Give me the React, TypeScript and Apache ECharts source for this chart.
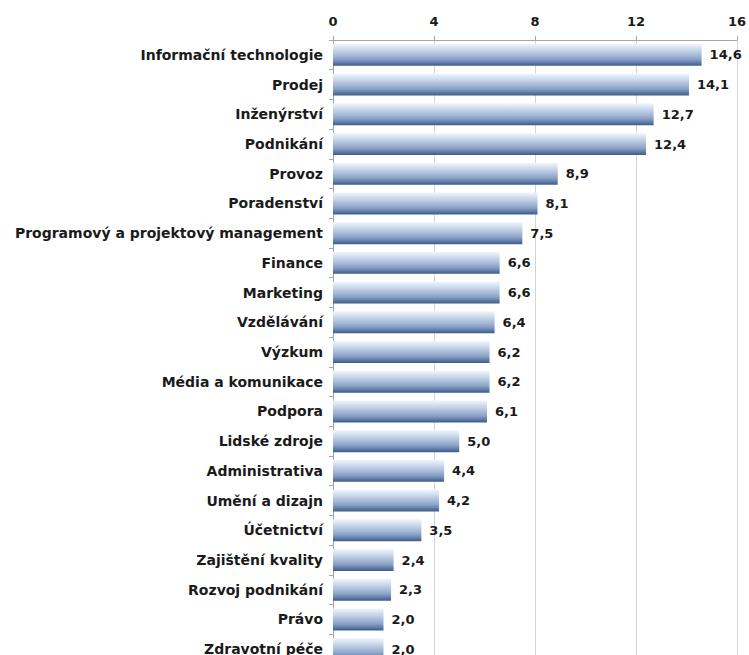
import React, { useEffect, useRef } from "react";
import * as echarts from "echarts";

const categories = [
  "Informační technologie",
  "Prodej",
  "Inženýrství",
  "Podnikání",
  "Provoz",
  "Poradenství",
  "Programový a projektový management",
  "Finance",
  "Marketing",
  "Vzdělávání",
  "Výzkum",
  "Média a komunikace",
  "Podpora",
  "Lidské zdroje",
  "Administrativa",
  "Umění a dizajn",
  "Účetnictví",
  "Zajištění kvality",
  "Rozvoj podnikání",
  "Právo",
  "Zdravotní péče",
];

const values = [14.6, 14.1, 12.7, 12.4, 8.9, 8.1, 7.5, 6.6, 6.6, 6.4, 6.2, 6.2, 6.1, 5.0, 4.4, 4.2, 3.5, 2.4, 2.3, 2.0, 2.0];

const xTicks = [0, 4, 8, 12, 16];

export default function App() {
  const ref = useRef<HTMLDivElement>(null);
  useEffect(() => {
    if (!ref.current) return;
    const chart = echarts.init(ref.current, undefined, { renderer: "svg" });
    const font = "'DejaVu Sans', sans-serif";
    chart.setOption({
      animation: false,
      backgroundColor: "#ffffff",
      grid: { left: 333, right: 9, top: 40, height: 624 },
      xAxis: {
        type: "value",
        position: "top",
        min: xTicks[0],
        max: xTicks[xTicks.length - 1],
        interval: 4,
        axisLine: { show: true, lineStyle: { color: "#a6a6a6", width: 1 } },
        axisTick: { show: true, length: 4, lineStyle: { color: "#a6a6a6" } },
        splitLine: { show: true, lineStyle: { color: "#d4d4d4", width: 1 } },
        axisLabel: {
          color: "#1a1a1a",
          fontFamily: font,
          fontWeight: "bold",
          fontSize: 13,
          margin: 12,
        },
      },
      yAxis: {
        type: "category",
        inverse: true,
        data: categories,
        axisLine: { show: true, lineStyle: { color: "#a6a6a6", width: 1 } },
        axisTick: { show: true, length: 4, lineStyle: { color: "#a6a6a6" } },
        axisLabel: {
          color: "#1a1a1a",
          fontFamily: font,
          fontWeight: "bold",
          fontSize: 14,
          margin: 10,
        },
      },
      series: [
        {
          type: "bar",
          data: values,
          barWidth: 22,
          itemStyle: {
            color: new echarts.graphic.LinearGradient(0, 0, 0, 1, [
              { offset: 0, color: "#f2f6fc" },
              { offset: 0.3, color: "#c6d4e9" },
              { offset: 0.7, color: "#8aa2c8" },
              { offset: 1, color: "#3e5b8b" },
            ]),
          },
          label: {
            show: true,
            position: "right",
            distance: 8,
            color: "#1a1a1a",
            fontFamily: font,
            fontWeight: "bold",
            fontSize: 13,
            formatter: (p: any) => p.value.toFixed(1).replace(".", ","),
          },
        },
      ],
    });
    return () => chart.dispose();
  }, []);
  return (
    <div style={{ position: "fixed", left: 0, top: 0, width: 749, height: 655, overflow: "hidden", background: "#fff" }}>
      <div ref={ref} style={{ width: 749, height: 680 }} />
    </div>
  );
}
